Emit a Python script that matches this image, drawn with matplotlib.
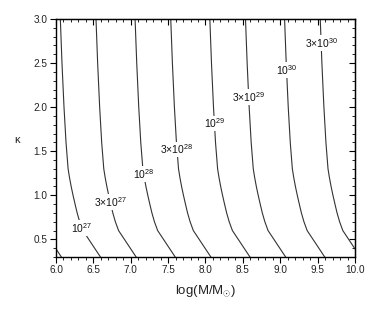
import numpy as np
import matplotlib
matplotlib.use("Agg")
import matplotlib.pyplot as plt
from matplotlib.ticker import MultipleLocator, FormatStrFormatter

plt.rcParams['font.family'] = ['Liberation Sans', 'DejaVu Sans']
plt.rcParams['mathtext.fontset'] = 'custom'
plt.rcParams['mathtext.rm'] = 'Liberation Sans'
plt.rcParams['mathtext.it'] = 'Liberation Sans:italic'

# profile: offset g(kappa) = log L - log M along each contour
kappa_nodes = [0.3, 0.6, 0.7, 0.8, 0.9, 1.0, 1.1, 1.2, 1.3, 1.6, 2.0, 2.5, 3.0]
g_offset = [20.405, 20.640, 20.683, 20.717, 20.745, 20.772, 20.797, 20.819,
            20.838, 20.866, 20.893, 20.920, 20.942]

# contour levels L = coef * 10^exp
level_coef = [3, 1, 3, 1, 3, 1, 3, 1, 3]
level_exp = [26, 27, 27, 28, 28, 29, 29, 30, 30]
# kappa at which each label sits (None = no label)
label_kappa = [None, 0.628, 0.924, 1.24, 1.52, 1.815, 2.117, 2.42, 2.73]

fig = plt.figure(figsize=(3.82, 3.11), dpi=100)
ax = fig.add_axes([0.1466, 0.1736, 0.9293 - 0.1466, 0.9389 - 0.1736])

k = np.array(kappa_nodes)
g = np.array(g_offset)
for c, e, lk in zip(level_coef, level_exp, label_kappa):
    lev = np.log10(c) + e
    ax.plot(lev - g, k, color='#333333', lw=0.8)
    if lk is not None:
        xl = lev - np.interp(lk, k, g)
        txt = r'$10^{%d}$' % e if c == 1 else r'$3{\times}10^{%d}$' % e
        ax.text(xl, lk, txt, ha='center', va='center', fontsize=7.5,
                color='#111111',
                bbox=dict(facecolor='white', edgecolor='none', pad=0.6))

ax.set_xlim(6.0, 10.0)
ax.set_ylim(0.3, 3.0)
ax.xaxis.set_major_locator(MultipleLocator(0.5))
ax.xaxis.set_minor_locator(MultipleLocator(0.1))
ax.yaxis.set_major_locator(MultipleLocator(0.5))
ax.yaxis.set_minor_locator(MultipleLocator(0.1))
ax.xaxis.set_major_formatter(FormatStrFormatter('%.1f'))
ax.yaxis.set_major_formatter(FormatStrFormatter('%.1f'))
ax.tick_params(which='both', direction='out', labelsize=7.2, pad=2,
               top=False, right=False, labelcolor='#222222')
ax.tick_params(which='major', length=4, width=0.8)
ax.tick_params(which='minor', length=2, width=0.6)
for s in ax.spines.values():
    s.set_linewidth(1.0)

# top and right axes with ticks pointing into the plot
axt = ax.secondary_xaxis('top')
axt.xaxis.set_major_locator(MultipleLocator(0.5))
axt.xaxis.set_minor_locator(MultipleLocator(0.1))
axt.tick_params(which='both', direction='in', labeltop=False)
axt.tick_params(which='major', length=4, width=0.8)
axt.tick_params(which='minor', length=2, width=0.6)
axr = ax.secondary_yaxis('right')
axr.yaxis.set_major_locator(MultipleLocator(0.5))
axr.yaxis.set_minor_locator(MultipleLocator(0.1))
axr.tick_params(which='both', direction='in', labelright=False)
axr.tick_params(which='major', length=4, width=0.8)
axr.tick_params(which='minor', length=2, width=0.6)

ax.set_xlabel(r'log(M/M$_{\odot}$)', fontsize=9.5, color='#222222')
ax.xaxis.set_label_coords(0.5, -0.11)
ax.set_ylabel('κ', rotation=0, fontsize=8, color='#222222')
ax.yaxis.set_label_coords(-0.13, 0.47)

fig.savefig('out.png', dpi=100)
